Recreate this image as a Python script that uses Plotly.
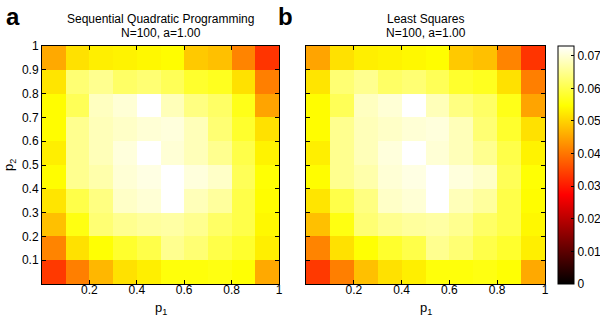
import plotly.graph_objects as go

# cell centres
p1 = [0.05, 0.15, 0.25, 0.35, 0.45, 0.55, 0.65, 0.75, 0.85, 0.95]
p2 = [0.05, 0.15, 0.25, 0.35, 0.45, 0.55, 0.65, 0.75, 0.85, 0.95]

# rows listed bottom (p2=0.05) to top (p2=0.95)
sqp_values = [
    [0.0335, 0.041, 0.047, 0.0515, 0.053, 0.0555, 0.0555, 0.056, 0.055, 0.0455],
    [0.0415, 0.0515, 0.055, 0.058, 0.060, 0.065, 0.063, 0.060, 0.058, 0.053],
    [0.048, 0.056, 0.063, 0.065, 0.066, 0.0665, 0.065, 0.062, 0.060, 0.054],
    [0.052, 0.060, 0.064, 0.069, 0.070, 0.073, 0.068, 0.066, 0.060, 0.0545],
    [0.0545, 0.065, 0.067, 0.070, 0.071, 0.073, 0.0705, 0.069, 0.061, 0.055],
    [0.053, 0.065, 0.068, 0.0705, 0.073, 0.070, 0.068, 0.065, 0.060, 0.0535],
    [0.0545, 0.065, 0.068, 0.069, 0.070, 0.0705, 0.068, 0.063, 0.058, 0.0515],
    [0.0545, 0.061, 0.0685, 0.070, 0.073, 0.068, 0.064, 0.062, 0.0565, 0.045],
    [0.052, 0.063, 0.065, 0.062, 0.063, 0.061, 0.058, 0.057, 0.0515, 0.041],
    [0.0455, 0.0515, 0.053, 0.0535, 0.054, 0.0545, 0.049, 0.048, 0.0415, 0.033],
]

ls_values = [
    [0.0335, 0.041, 0.048, 0.0515, 0.053, 0.0555, 0.0555, 0.056, 0.055, 0.0455],
    [0.0415, 0.0515, 0.055, 0.058, 0.060, 0.065, 0.063, 0.060, 0.058, 0.053],
    [0.048, 0.056, 0.063, 0.065, 0.066, 0.0665, 0.065, 0.062, 0.060, 0.054],
    [0.052, 0.060, 0.064, 0.069, 0.070, 0.073, 0.068, 0.066, 0.060, 0.0545],
    [0.0545, 0.065, 0.067, 0.070, 0.071, 0.073, 0.0705, 0.069, 0.061, 0.055],
    [0.053, 0.065, 0.068, 0.0705, 0.073, 0.070, 0.068, 0.065, 0.060, 0.0535],
    [0.0545, 0.065, 0.068, 0.069, 0.070, 0.0705, 0.068, 0.063, 0.058, 0.0515],
    [0.0545, 0.061, 0.0685, 0.070, 0.073, 0.068, 0.064, 0.062, 0.0565, 0.045],
    [0.052, 0.063, 0.065, 0.062, 0.063, 0.061, 0.058, 0.057, 0.0515, 0.041],
    [0.045, 0.0515, 0.053, 0.0535, 0.054, 0.0545, 0.049, 0.048, 0.0415, 0.033],
]

x_ticks = [0.2, 0.4, 0.6, 0.8, 1.0]
x_ticktext = ["0.2", "0.4", "0.6", "0.8", "1"]
y_ticks = [0.1, 0.2, 0.3, 0.4, 0.5, 0.6, 0.7, 0.8, 0.9, 1.0]
y_ticktext = ["0.1", "0.2", "0.3", "0.4", "0.5", "0.6", "0.7", "0.8", "0.9", "1"]
cbar_ticks = [0, 0.01, 0.02, 0.03, 0.04, 0.05, 0.06, 0.07]
cbar_ticktext = ["0", "0.01", "0.02", "0.03", "0.04", "0.05", "0.06", "0.07"]

zmin, zmax = 0.0, 0.073
hot = [[0.0, "rgb(0,0,0)"], [0.375, "rgb(255,0,0)"], [0.75, "rgb(255,255,0)"], [1.0, "rgb(255,255,255)"]]

FONT = "Liberation Sans, Arial, Helvetica, sans-serif"

R = 32                 # right margin reserved for colorbar labels
W = 600 - R            # plot-area width in px
H = 320


def px(xp):
    return xp / W


def py(yp):
    return (H - yp) / H


fig = go.Figure()
fig.add_trace(go.Heatmap(x=p1, y=p2, z=sqp_values, colorscale=hot, zmin=zmin, zmax=zmax,
                         xaxis="x", yaxis="y", showscale=False))
fig.add_trace(go.Heatmap(x=p1, y=p2, z=ls_values, colorscale=hot, zmin=zmin, zmax=zmax,
                         xaxis="x2", yaxis="y2", showscale=True,
                         colorbar=dict(x=px(558), xanchor="left", y=py(165), yanchor="middle",
                                       lenmode="pixels", len=238, thicknessmode="pixels", thickness=16,
                                       xpad=0, ypad=0,
                                       outlinecolor="black", outlinewidth=1,
                                       tickvals=cbar_ticks, ticktext=cbar_ticktext,
                                       ticks="inside", ticklen=3, tickcolor="black",
                                       tickfont=dict(family=FONT, size=12, color="black"))))

axis_common = dict(range=[0, 1], showgrid=False, zeroline=False, showline=True, linecolor="black",
                   linewidth=1, mirror="ticks", ticks="inside", ticklen=4, tickcolor="black",
                   tickfont=dict(family=FONT, size=12, color="black"))

fig.update_layout(
    width=600, height=320, margin=dict(l=0, r=R, t=0, b=0, autoexpand=False),
    paper_bgcolor="white", plot_bgcolor="white",
    xaxis=dict(domain=[px(42), px(279)], anchor="y", tickvals=x_ticks, ticktext=x_ticktext,
               ticklabelstandoff=-5, **axis_common),
    yaxis=dict(domain=[py(284), py(46)], anchor="x", tickvals=y_ticks, ticktext=y_ticktext, **axis_common),
    xaxis2=dict(domain=[px(306), px(545)], anchor="y2", tickvals=x_ticks, ticktext=x_ticktext,
                ticklabelstandoff=-5, **axis_common),
    yaxis2=dict(domain=[py(284), py(46)], anchor="x2", tickvals=y_ticks, ticktext=[""]*len(y_ticks), **axis_common),
    font=dict(family=FONT, color="black"),
)

annots = [
    dict(x=px((42+279)/2), y=py(19.5), text="Sequential Quadratic Programming", font=dict(size=12)),
    dict(x=px((42+279)/2), y=py(32.5), text="N=100, a=1.00", font=dict(size=12)),
    dict(x=px((306+545)/2), y=py(19.5), text="Least Squares", font=dict(size=12)),
    dict(x=px((306+545)/2), y=py(32.5), text="N=100, a=1.00", font=dict(size=12)),
    dict(x=px(13), y=py(17), text="<b>a</b>", font=dict(size=24)),
    dict(x=px(285), y=py(17), text="<b>b</b>", font=dict(size=24)),
    dict(x=px((42+279)/2), y=py(308), text="p<sub>1</sub>", font=dict(size=13)),
    dict(x=px((306+545)/2), y=py(308), text="p<sub>1</sub>", font=dict(size=13)),
    dict(x=px(9), y=py(165), text="p<sub>2</sub>", font=dict(size=13), textangle=-90),
]
for a in annots:
    a.update(xref="paper", yref="paper", showarrow=False, xanchor="center", yanchor="middle")
    a["font"].update(family=FONT, color="black")
    fig.add_annotation(**a)

fig.write_html("out.html", config={"displayModeBar": False},
               post_script="document.body.style.margin='0';document.body.style.overflow='hidden';")
